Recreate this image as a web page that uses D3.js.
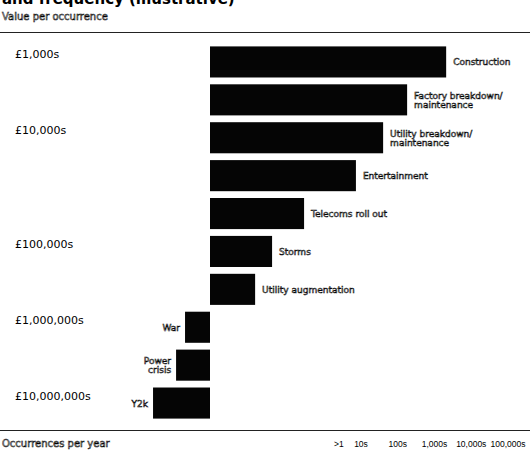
<!DOCTYPE html>
<html>
<head>
<meta charset="utf-8">
<script src="https://cdn.jsdelivr.net/npm/d3@7"></script>
<style>
  body { margin: 0; background: #fff; }
  svg { display: block; }
  .hollow { fill: #fff; stroke: #000; stroke-width: 0.55px; }
</style>
</head>
<body>
<div id="chart"></div>
<script>
// rows from top (cheapest) to bottom (most expensive)
const categories = ['Construction', 'Factory breakdown/maintenance', 'Utility breakdown/maintenance',
    'Entertainment', 'Telecoms roll out', 'Storms', 'Utility augmentation', 'War', 'Power crisis', 'Y2k'];
const labelLines = [
    ['Construction'],
    ['Factory breakdown/', 'maintenance'],
    ['Utility breakdown/', 'maintenance'],
    ['Entertainment'],
    ['Telecoms roll out'],
    ['Storms'],
    ['Utility augmentation'],
    ['War'],
    ['Power', 'crisis'],
    ['Y2k']
];
// illustrative bar length (arbitrary units, negative = drawn to the left)
const barValues = [73.8, 61.6, 54.1, 45.6, 29.4, 19.4, 14.1, -7.8, -10.6, -17.8];

const valueTickLabels = ['£1,000s', '£10,000s', '£100,000s', '£1,000,000s', '£10,000,000s'];
const valueTickRows = ['Construction', 'Utility breakdown/maintenance', 'Storms', 'War', 'Y2k'];

const freqTickValues = [2.5, 10, 100, 1000, 10000, 100000];
const freqTickLabels = ['>1', '10s', '100s', '1,000s', '10,000s', '100,000s'];

const width = 530, height = 454;
const font = 'DejaVu Sans, sans-serif';

const svg = d3.select('#chart').append('svg')
    .attr('width', width)
    .attr('height', height);

const y = d3.scaleBand()
    .domain(categories)
    .range([43, 422])
    .paddingInner(0.18)
    .paddingOuter(0.09);

const x = d3.scaleLinear()
    .domain([0, 100])
    .range([210, 530]);

const xFreq = d3.scaleLog()
    .domain([10, 100000])
    .range([361, 508]);

// title (cut off at the top of the page, as in the source)
svg.append('text')
    .attr('x', 2)
    .attr('y', 4)
    .attr('font-family', font)
    .attr('font-weight', 'bold')
    .attr('font-size', 15)
    .text('and frequency (illustrative)');

svg.append('text')
    .attr('class', 'hollow')
    .attr('x', 2)
    .attr('y', 20)
    .attr('font-family', font)
    .attr('font-size', 10)
    .text('Value per occurrence');

// rules
svg.append('line')
    .attr('x1', 0).attr('x2', width)
    .attr('y1', 32.5).attr('y2', 32.5)
    .attr('stroke', '#222').attr('stroke-width', 1);

svg.append('line')
    .attr('x1', 0).attr('x2', width)
    .attr('y1', 430.5).attr('y2', 430.5)
    .attr('stroke', '#222').attr('stroke-width', 1);

// bars
svg.selectAll('rect.bar')
    .data(categories)
    .enter()
    .append('rect')
    .attr('class', 'bar')
    .attr('x', (d, i) => Math.min(x(0), x(barValues[i])))
    .attr('y', d => y(d))
    .attr('width', (d, i) => Math.abs(x(barValues[i]) - x(0)))
    .attr('height', y.bandwidth())
    .attr('fill', '#050505');

// bar labels
const labels = svg.selectAll('text.lbl')
    .data(categories)
    .enter()
    .append('text')
    .attr('class', 'lbl hollow')
    .attr('font-family', font)
    .attr('font-size', 9)
    .attr('text-anchor', (d, i) => barValues[i] < 0 ? 'end' : 'start')
    .attr('x', (d, i) => barValues[i] < 0 ? x(barValues[i]) - 5 : x(barValues[i]) + 7)
    .attr('y', (d, i) => y(d) + y.bandwidth() / 2 + 3.5 - (labelLines[i].length - 1) * 4.5);

labels.each(function(d, i) {
    const t = d3.select(this);
    labelLines[i].forEach((line, j) => {
        t.append('tspan')
            .attr('x', t.attr('x'))
            .attr('dy', j === 0 ? 0 : 9)
            .text(line);
    });
});

// value ticks (left)
svg.selectAll('text.vtick')
    .data(valueTickLabels)
    .enter()
    .append('text')
    .attr('class', 'vtick')
    .attr('x', 15)
    .attr('y', (d, i) => y(valueTickRows[i]) + 12)
    .attr('font-family', font)
    .attr('font-size', 11)
    .attr('fill', '#000')
    .text(d => d);

// frequency ticks (bottom)
svg.append('text')
    .attr('class', 'hollow')
    .attr('x', 2)
    .attr('y', 447)
    .attr('font-family', font)
    .attr('font-size', 10)
    .text('Occurrences per year');

svg.selectAll('text.ftick')
    .data(freqTickLabels)
    .enter()
    .append('text')
    .attr('class', 'ftick')
    .attr('x', (d, i) => xFreq(freqTickValues[i]))
    .attr('y', 447)
    .attr('text-anchor', 'middle')
    .attr('font-family', 'Liberation Sans, Arial, sans-serif')
    .attr('font-size', 8.5)
    .attr('fill', '#000')
    .text(d => d);
</script>
</body>
</html>
